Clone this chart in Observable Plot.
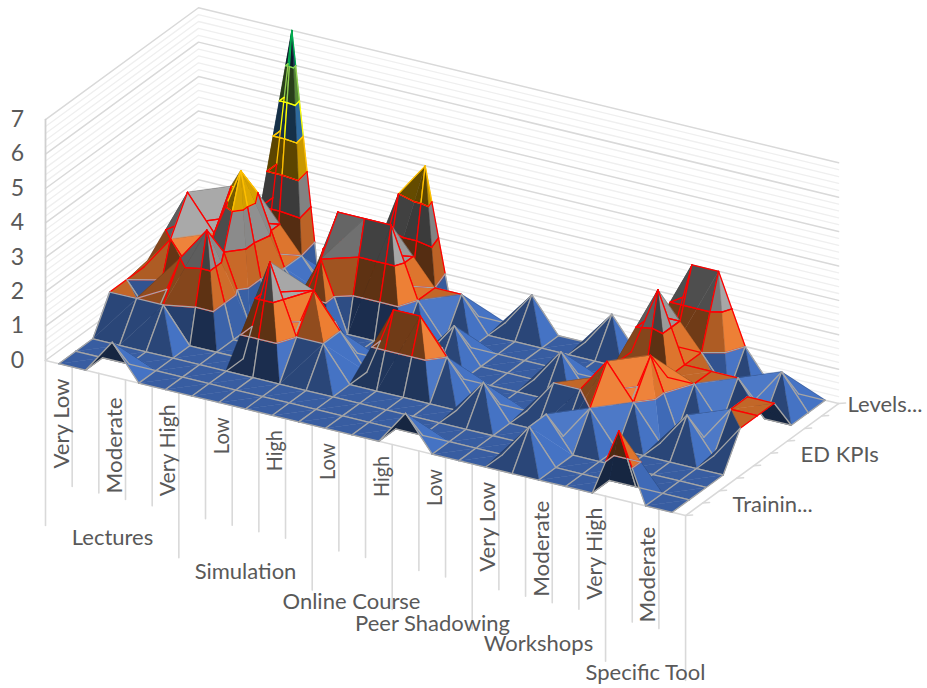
<!DOCTYPE html>
<html>
<head>
<meta charset="utf-8">
<script src="https://cdn.jsdelivr.net/npm/d3@7"></script>
<script src="https://cdn.jsdelivr.net/npm/@observablehq/plot@0.6"></script>
<style>
  html, body { margin: 0; padding: 0; background: #fff; }
  svg { display: block; }
</style>
</head>
<body>
<div id="chart"></div>
<script>
// Training methods (multi-level category axis) and their proficiency levels
const groups = [
  ["Lectures", 5], ["Simulation", 5], ["Online Course", 3],
  ["Peer Shadowing", 3], ["Workshops", 5], ["Specific Tool", 3]
];
const levels = [
  "Very Low", "Low", "Moderate", "High", "Very High",
  "Very Low", "Low", "Moderate", "High", "Very High",
  "Low", "Moderate", "High",
  "Very Low", "Low", "Moderate",
  "Very Low", "Low", "Moderate", "High", "Very High",
  "Low", "Moderate", "High"
];
const shownLevels = [0, 2, 4, 6, 8, 10, 12, 14, 16, 18, 20, 22];
const seriesTicks = [[1, "Trainin..."], [5, "ED KPIs"], [9, "Levels..."]];

// One list of counts per series, front row first
const row0 = [0,0,1,0,0,0,0,0,0,0,0,0,0,1,0,0,0,0,0,0,0,2,0,0];
const row1 = [0,0,0,0,0,0,0,0,0,0,0,0,0,0,0,0,0,1,0,0,0,0,0,0];
const row2 = [0,0,0,0,0,0,0,0,0,0,0,0,0,0,0,0,0,1,0,0,0,0,0,0];
const row3 = [1,1,1,0,0,0,3,1,1,0,0,0,0,0,1,0,0,0,1,0,0,0,0,0];
const row4 = [1,0,2,3,0,0,0,2,1,0,2,2,1,0,0,0,1,1,2,1,0,1,0,1];
const row5 = [1,2,1,2,0,0,0,0,0,0,0,0,0,0,0,0,0,1,0,2,0,0,1,1];
const row6 = [0,3,2,4,0,0,2,0,0,0,0,1,0,0,0,1,0,1,0,1,1,0,1,1];
const row7 = [0,0,3,3,1,0,3,3,3,1,0,0,0,0,0,0,0,1,3,1,1,1,0,0];
const row8 = [0,0,0,0,1,0,0,0,0,1,1,0,0,0,0,0,0,1,1,1,0,0,1,0];
const row9 = [0,0,0,7,0,0,0,3,4,0,0,0,1,0,0,1,0,0,3,3,1,0,0,0];
const rows = [row0, row1, row2, row3, row4, row5, row6, row7, row8, row9];

// Value bands of the surface: fill and wire colour for each unit of height
const bandFill = ["#4472C4", "#ED7D31", "#A5A5A5", "#FFC000", "#3A86C8", "#70AD47", "#264478"];
const bandWire = ["#A5A5A5", "#FF0000", "#FF0000", "#FFC000", "#FFFF00", "#92D050", "#00B050"];

// Oblique projection of the chart box
const origin = [45, 360], catVec = [26.67, 6.46], rowVec = [17, -12.44], zVec = -34.4;
const nCat = levels.length, nRow = rows.length;
const project = (c, r, z) => [
  origin[0] + (c + 0.5) * catVec[0] + r * rowVec[0],
  origin[1] + (c + 0.5) * catVec[1] + r * rowVec[1] + z * zVec
];
const wallBack = nRow - 1;

// Shade factor from a facet's normal, measured in box units
function shade(a, b, c) {
  const L = [27.4, 21, 34.4];
  const u = [(b[0]-a[0])*L[0], (b[1]-a[1])*L[1], (b[2]-a[2])*L[2]];
  const v = [(c[0]-a[0])*L[0], (c[1]-a[1])*L[1], (c[2]-a[2])*L[2]];
  let n = [u[1]*v[2]-u[2]*v[1], u[2]*v[0]-u[0]*v[2], u[0]*v[1]-u[1]*v[0]];
  const len = Math.hypot(...n) || 1;
  n = n.map(d => d / len);
  if (n[2] < 0) n = n.map(d => -d);
  // Facets that tip away from the viewer show their dark underside
  const view = [0.45 * 27.4 / 27.4, -0.78, 0.42];
  const pageNormal = screenFacing(a, b, c);
  if (pageNormal < 0) return 0.33;
  let f = Math.max(0.36, 0.82 * Math.pow(n[2], 0.45));
  f += 0.44 * Math.max(0, n[0]);
  f += 1.45 * Math.max(0, n[0]) * Math.max(0, -n[1]) * n[2];
  return Math.min(1.25, f);
}
// Sign of a facet's area on the page once oriented like the flat floor
function screenFacing(a, b, c) {
  const pa = project(...a), pb = project(...b), pc = project(...c);
  const area = (pb[0]-pa[0])*(pc[1]-pa[1]) - (pb[1]-pa[1])*(pc[0]-pa[0]);
  const plan = (b[0]-a[0])*(c[1]-a[1]) - (b[1]-a[1])*(c[0]-a[0]);
  const floorSign = catVec[0]*rowVec[1] - catVec[1]*rowVec[0];
  return area * plan * floorSign;
}
const tint = (hex, f) => {
  const c = d3.rgb(hex);
  if (f <= 1) return d3.rgb(c.r*f, c.g*f, c.b*f).formatHex();
  const t = (f - 1) * 0.9;
  return d3.rgb(c.r + (255-c.r)*t, c.g + (255-c.g)*t, c.b + (255-c.b)*t).formatHex();
};

// Clip a facet to one height band, remembering which edges run along the diagonal
function clipBand(tri, lo, hi) {
  let poly = tri.map(p => ({p: p.p, diag: p.diag}));
  const cut = (level, keepAbove) => {
    const out = [];
    for (let k = 0; k < poly.length; k++) {
      const A = poly[k], B = poly[(k+1) % poly.length];
      const ina = keepAbove ? A.p[2] >= level : A.p[2] <= level;
      const inb = keepAbove ? B.p[2] >= level : B.p[2] <= level;
      if (ina) out.push({p: A.p, diag: A.diag});
      if (ina !== inb) {
        const t = (level - A.p[2]) / (B.p[2] - A.p[2]);
        const q = [0,1,2].map(d => A.p[d] + t*(B.p[d]-A.p[d]));
        q[2] = level;
        out.push({p: q, diag: ina ? false : A.diag});
      }
    }
    poly = out;
  };
  cut(lo, true);
  if (poly.length) cut(hi, false);
  return poly;
}

// Every facet and wire becomes a small closed path, listed back to front
const pieces = [];
let gid = 0;
function addPath(pts, fill, stroke, strokeWidth) {
  const g = gid++;
  for (const p of pts) {
    const [x, y] = project(...p);
    pieces.push({g, x, y, fill, stroke, strokeWidth});
  }
}
for (let r = nRow - 2; r >= 0; r--) {
  for (let c = 0; c < nCat - 1; c++) {
    const P00 = [c, r, rows[r][c]], P10 = [c+1, r, rows[r][c+1]];
    const P01 = [c, r+1, rows[r+1][c]], P11 = [c+1, r+1, rows[r+1][c+1]];
    const sumA = P00[2] + P11[2], sumB = P10[2] + P01[2];
    // The vertex index after which the facet's boundary follows the diagonal
    const tris = sumA >= sumB
      ? [{v: [P00, P10, P11], diag: 2}, {v: [P00, P11, P01], diag: 0}]
      : [{v: [P00, P10, P01], diag: 1}, {v: [P10, P11, P01], diag: 2}];
    // The triangle further up the page is painted first
    const depth = t => d3.mean(t.v, p => project(p[0], p[1], 0)[1]);
    tris.sort((a, b) => depth(a) - depth(b));
    const wires = [];
    for (const t of tris) {
      const tri = t.v.map((p, k) => ({p, diag: k === t.diag}));
      const zs = t.v.map(p => p[2]);
      const lo = Math.min(...zs), hi = Math.max(...zs);
      const f = shade(...t.v);
      for (let b = 0; b < bandFill.length; b++) {
        if (lo === hi ? lo !== b : (hi <= b || lo >= b + 1)) continue;
        const poly = clipBand(tri, b, b + 1);
        if (poly.length < 3) continue;
        const colour = tint(bandFill[b], f);
        addPath(poly.map(q => q.p), colour, colour, 0.5);
        poly.forEach((q, k) => {
          if (!q.diag) wires.push({b, a: q.p, z: poly[(k+1) % poly.length].p});
        });
      }
    }
    // Wires of lower bands go on top, so a shared contour takes the lower colour
    wires.sort((u, v) => v.b - u.b);
    for (const w of wires) addPath([w.a, w.z], "none", bandWire[w.b], 1.3);
  }
}

// Walls, gridlines and ticks of the box
const gridMajor = d3.range(0, 8);
const gridMinor = d3.range(0, 7.01, 0.2).filter(v => Math.abs(v - Math.round(v)) > 0.01);
const box = [[-0.5, 0], [-0.5, wallBack], [nCat - 0.5, wallBack]];
const wallLines = (heights, id) => heights.flatMap(z =>
  box.map(([c, r]) => {
    const [x, y] = project(c, r, z);
    return {id: `${id}${z}`, x, y};
  }));
const floorEdge = [[-0.5, 0], [nCat - 0.5, 0], [nCat - 0.5, wallBack]].map(([c, r]) => {
  const [x, y] = project(c, r, 0);
  return {x, y};
});
const yAxisLine = [0, 7].map(z => {
  const [x, y] = project(-0.5, 0, z);
  return {x, y};
});

// Category ticks hang below the front edge; group boundaries reach further down
const shortTick = 119.5, longTick = 165;
const groupStarts = new Set(d3.cumsum([0, ...groups.map(d => d[1])]));
const catTicks = d3.range(0, nCat + 1).flatMap(k => {
  const [x, y] = project(k - 0.5, 0, 0);
  const len = groupStarts.has(k) ? longTick : shortTick;
  return [{id: k, x, y}, {id: k, x, y: y + len}];
});
// Series ticks stick out to the right of the floor edge
const rowTicks = d3.range(0, nRow).flatMap(r => {
  const [x, y] = project(nCat - 0.5, r, 0);
  return [{id: r, x, y}, {id: r, x: x + 7, y: y - 0.5}];
});

const levelWidth = {"Very Low": 90, "Moderate": 96, "Very High": 92, "Low": 37, "High": 41};
const levelLabels = shownLevels.map(i => {
  const [x] = project(i, 0, 0);
  const nudge = levels[i] === "Moderate" ? 6 : 0;
  return {x: x + 3, y: 378 + i * catVec[1] + nudge, text: levels[i]};
});
const groupCentres = [[112, 537], [245, 571], [351, 601], [432, 623], [538, 643], [645, 672]];
const groupLabels = groups.map((g, k) => ({x: groupCentres[k][0], y: groupCentres[k][1], text: g[0]}));
const valueLabels = gridMajor.map(z => ({x: 17, y: project(-0.5, 0, z)[1], text: String(z)}));
const seriesOffset = {1: 30, 5: 30, 9: 9};
const seriesLabels = seriesTicks.map(([r, text]) => {
  const [x, y] = project(nCat - 0.5, r, 0);
  return {x: x + seriesOffset[r], y: y + 1.5, text};
});

const textFont = "Lato, 'Noto Sans', sans-serif";
const textColor = "#595959";
const chart = Plot.plot({
  width: 927, height: 688,
  margin: 0,
  x: {domain: [0, 927], range: [0, 927], axis: null},
  y: {domain: [0, 688], range: [0, 688], axis: null},
  color: {type: "identity"},
  style: {background: "#fff"},
  marks: [
    Plot.line(wallLines(gridMinor, "n"), {x: "x", y: "y", z: "id", stroke: "#EFEFEF", strokeWidth: 1.3}),
    Plot.line(wallLines(gridMajor, "m"), {x: "x", y: "y", z: "id", stroke: "#D9D9D9", strokeWidth: 1.5}),
    Plot.line(yAxisLine, {x: "x", y: "y", stroke: "#D0D0D0", strokeWidth: 1.8}),
    Plot.line(catTicks, {x: "x", y: "y", z: "id", stroke: "#D9D9D9", strokeWidth: 1.6}),
    Plot.line(rowTicks, {x: "x", y: "y", z: "id", stroke: "#D9D9D9", strokeWidth: 1.5}),
    Plot.line(floorEdge, {x: "x", y: "y", stroke: "#D9D9D9", strokeWidth: 1.6}),
    Plot.line(pieces, {
      x: "x", y: "y", z: "g",
      fill: "fill", stroke: "stroke", strokeWidth: "strokeWidth",
      curve: "linear-closed", strokeLinejoin: "round", strokeLinecap: "round"
    }),
    Plot.text(levelLabels, {x: "x", y: "y", text: "text", rotate: -90, textAnchor: "end", lineAnchor: "middle", fontSize: 21, fontFamily: textFont, fill: textColor, className: "level-label"}),
    Plot.text(groupLabels, {x: "x", y: "y", text: "text", fontSize: 22, fontFamily: textFont, fill: textColor}),
    Plot.text(valueLabels, {x: "x", y: "y", text: "text", fontSize: 23, fontFamily: textFont, fill: textColor}),
    Plot.text(seriesLabels, {x: "x", y: "y", text: "text", textAnchor: "start", fontSize: 22, fontFamily: textFont, fill: textColor})
  ]
});
// Rotated level names run longer than their type size would give
d3.select(chart).selectAll(".level-label text").each(function() {
  const w = levelWidth[this.textContent];
  if (w) d3.select(this).attr("textLength", w).attr("lengthAdjust", "spacingAndGlyphs");
});
document.getElementById("chart").append(chart);
</script>
</body>
</html>
